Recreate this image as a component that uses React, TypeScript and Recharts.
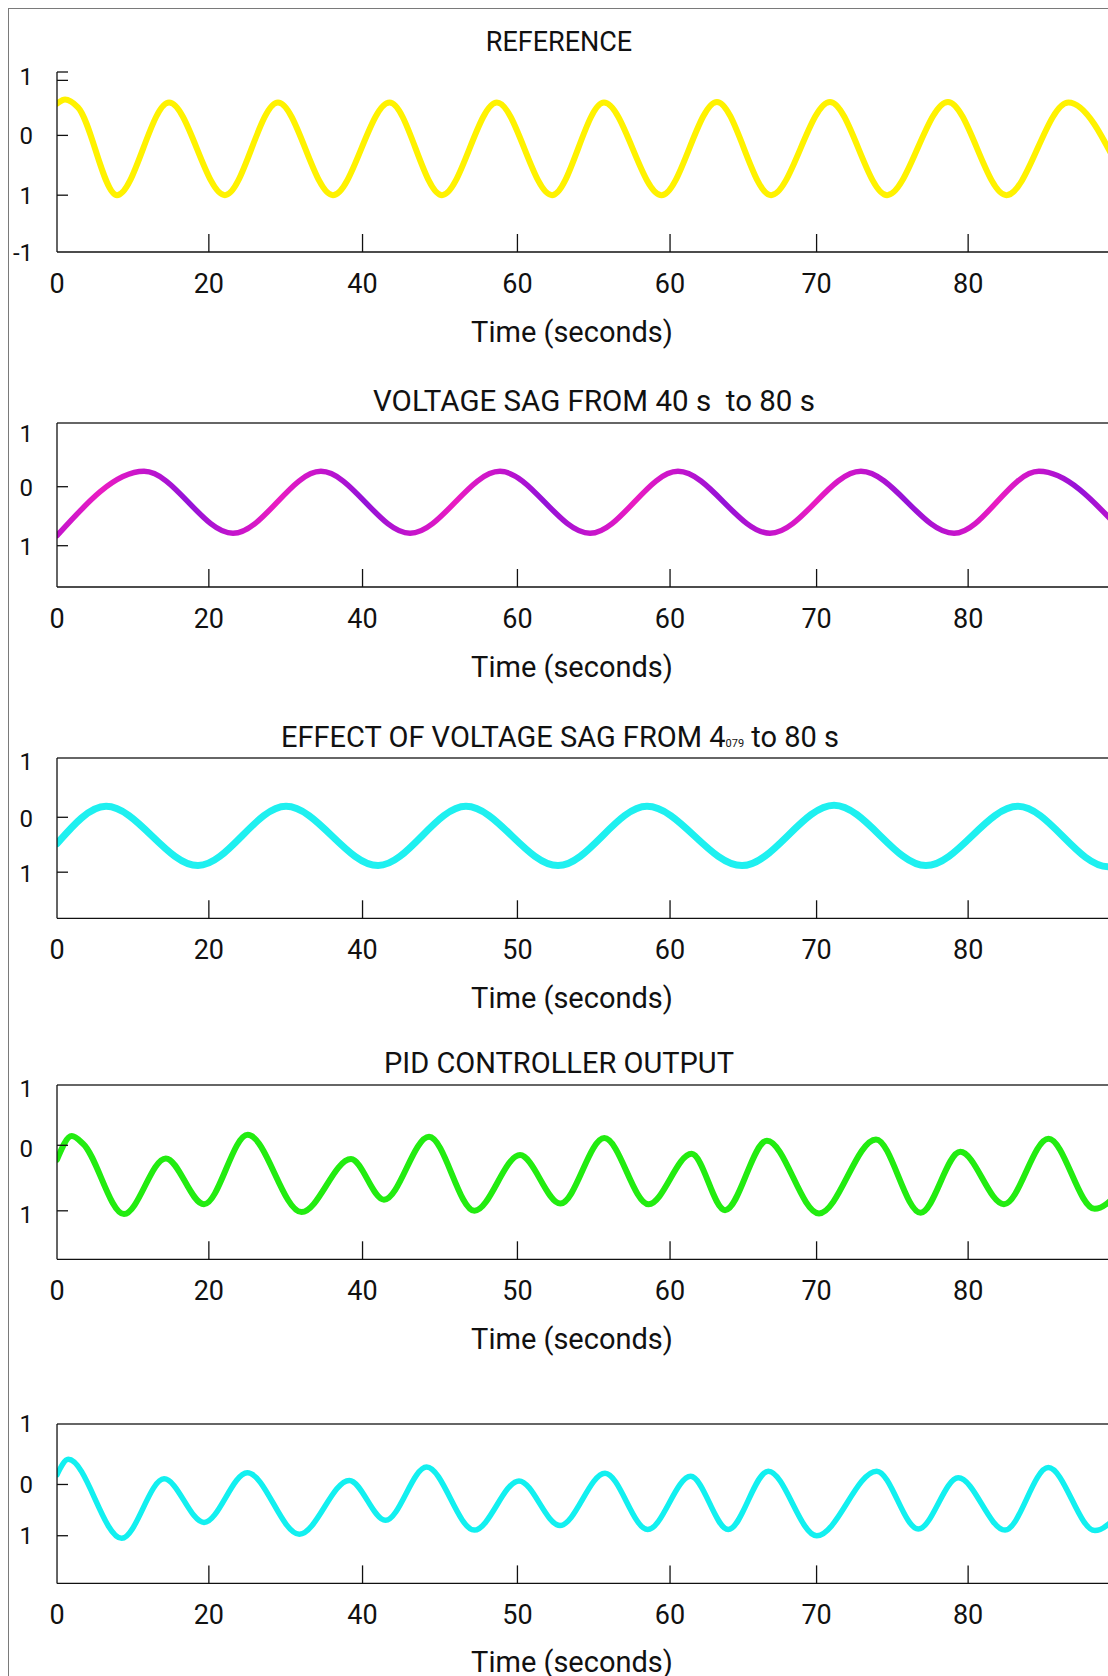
import { LineChart, Line, XAxis, YAxis, ReferenceLine } from "recharts";

const FONT = "Roboto, 'Liberation Sans', Arial, sans-serif";
const X_MAX = 70;

// x axis: tick positions (uneven in the original) and their printed labels
const xTickPos = [0, 10, 20.12, 30.32, 40.37, 50.02, 60];
const xLabelsTop = ["0", "20", "40", "60", "60", "70", "80"];
const xLabelsBottom = ["0", "20", "40", "50", "60", "70", "80"];

// REFERENCE (turning points)
const refX = [0, 0.53, 1.38, 3.95, 7.38, 11.06, 14.55, 18.17, 21.9, 25.35, 28.97, 32.6, 36.02, 39.81, 43.46, 47.02, 50.9, 54.66, 58.67, 62.52, 66.6, 70];
const refY = [0.53, 0.6, 0.47, -1.0, 0.55, -1.0, 0.55, -1.0, 0.55, -1.0, 0.55, -1.0, 0.55, -1.0, 0.56, -1.0, 0.56, -1.0, 0.56, -1.0, 0.55, -0.6];

// VOLTAGE SAG
const sagX = [0, 5.73, 11.59, 17.38, 23.25, 29.17, 35.1, 40.89, 46.95, 52.94, 59.07, 64.66, 70];
const sagY = [-0.83, 0.26, -0.79, 0.26, -0.79, 0.26, -0.79, 0.26, -0.79, 0.26, -0.79, 0.26, -0.72];

// EFFECT OF VOLTAGE SAG
const effX = [0, 3.23, 9.28, 15.08, 21.14, 26.93, 32.99, 38.85, 45.11, 51.17, 57.22, 63.28, 69.21, 70];
const effY = [-0.48, 0.2, -0.88, 0.2, -0.88, 0.2, -0.88, 0.2, -0.88, 0.22, -0.88, 0.2, -0.9, -0.86];

// PID CONTROLLER OUTPUT
const pidX = [0, 0.97, 1.73, 4.41, 7.16, 9.68, 12.56, 16.1, 19.36, 21.53, 24.5, 27.49, 30.49, 33.15, 36.04, 38.96, 41.79, 43.99, 46.75, 50.18, 53.93, 56.87, 59.48, 62.36, 65.29, 68.33, 70];
const pidY = [-0.22, 0.14, 0.02, -1.05, -0.2, -0.9, 0.16, -1.02, -0.21, -0.83, 0.13, -1.0, -0.15, -0.89, 0.11, -0.9, -0.13, -0.99, 0.07, -1.04, 0.09, -1.03, -0.1, -0.9, 0.1, -0.97, -0.7];

// last panel (no title)
const outX = [0, 0.74, 4.26, 7.05, 9.68, 12.53, 15.96, 19.25, 21.63, 24.34, 27.48, 30.42, 33.12, 36.09, 38.9, 41.73, 44.2, 46.84, 50.03, 53.98, 56.72, 59.35, 62.43, 65.28, 68.35, 70];
const outY = [0.19, 0.49, -1.05, 0.11, -0.74, 0.23, -0.97, 0.08, -0.7, 0.34, -0.89, 0.07, -0.8, 0.22, -0.88, 0.16, -0.88, 0.26, -1.0, 0.26, -0.87, 0.13, -0.89, 0.33, -0.9, -0.55];

// y ticks per panel: value, printed text, whether a tick mark is drawn
const yTicks1 = [1.06, 0.99, 0.92, 0, -1, -1.95];
const yText1 = ["", "1", "", "0", "1", "-1"];
const yMark1 = [true, false, true, true, true, false];
const yTicks2 = [0.92, 0, -1];
const yTicks3 = [1.04, 0, -1];
const yTicks4 = [0.92, 0, -1];
const yTicks5 = [1.18, 0, -1];
const yTextStd = ["1", "0", "1"];
const yMarkStd = [false, true, true];

const MARGIN = { top: 20, right: 18, bottom: 0, left: 0 };
const CHART_W = 1130;
const X_AXIS_H = 50;
const Y_AXIS_W = 49;

// gradient stops for the magenta/purple line: pink going up, purple going down
const sagStops = sagX.flatMap((x, i) => {
  const stops = [{ off: x / X_MAX, color: "#c414cc" }];
  if (i < sagX.length - 1) {
    const mid = (x + sagX[i + 1]) / 2;
    stops.push({ off: mid / X_MAX, color: sagY[i + 1] > sagY[i] ? "#ea1cc2" : "#9412d8" });
  }
  return stops;
});

interface PanelProps {
  plotTop: number;
  plotH: number;
  xs: number[];
  ys: number[];
  domain: [number, number];
  yTicks: number[];
  yText: string[];
  yMark: boolean[];
  yDy: number;
  xLabels: string[];
  stroke: string;
  strokeWidth: number;
  box: boolean;
}

const Panel = ({ plotTop, plotH, xs, ys, domain, yTicks, yText, yMark, yDy, xLabels, stroke, strokeWidth, box }: PanelProps) => {
  const data = xs.map((x, i) => ({ x, y: ys[i] }));

  const renderXTick = (props: any) => {
    const { x, y, payload } = props;
    const i = xTickPos.indexOf(payload.value);
    return (
      <g>
        {i > 0 && <line x1={x} x2={x} y1={y} y2={y - 18} stroke="#111" strokeWidth={1.3} />}
        <text x={x} y={y + 40.5} textAnchor="middle" fontSize={27} fontFamily={FONT} fill="#111">
          {xLabels[i]}
        </text>
      </g>
    );
  };

  const renderYTick = (props: any) => {
    const { x, y, payload } = props;
    const i = yTicks.indexOf(payload.value);
    return (
      <g>
        {yMark[i] && <line x1={x} x2={x + 11} y1={y} y2={y} stroke="#111" strokeWidth={1.3} />}
        <text x={25} y={y + yDy + 8.5} textAnchor="end" fontSize={24} fontFamily={FONT} fill="#111">
          {yText[i]}
        </text>
      </g>
    );
  };

  return (
    <div style={{ position: "absolute", left: 0, top: plotTop - 8 - MARGIN.top }}>
      <LineChart width={CHART_W} height={MARGIN.top + plotH + X_AXIS_H} data={data} margin={MARGIN}>
        <XAxis
          dataKey="x"
          type="number"
          domain={[0, X_MAX]}
          ticks={xTickPos}
          interval={0}
          allowDataOverflow
          height={X_AXIS_H}
          tickSize={0}
          tickMargin={0}
          tickLine={false}
          axisLine={{ stroke: "#111", strokeWidth: 1.3 }}
          tick={renderXTick}
        />
        <YAxis
          type="number"
          domain={domain}
          ticks={yTicks}
          interval={0}
          allowDataOverflow
          width={Y_AXIS_W}
          tickSize={0}
          tickMargin={0}
          tickLine={false}
          axisLine={{ stroke: "#111", strokeWidth: 1.3 }}
          tick={renderYTick}
        />
        {box && <ReferenceLine y={domain[1]} stroke="#333" strokeWidth={1.3} />}
        <Line
          type="monotone"
          dataKey="y"
          stroke={stroke}
          strokeWidth={strokeWidth}
          strokeLinecap="round"
          strokeLinejoin="round"
          dot={false}
          activeDot={false}
          isAnimationActive={false}
        />
      </LineChart>
    </div>
  );
};

const App = () => {
  return (
    <div style={{ position: "relative", width: 1100, height: 1668, overflow: "hidden", background: "#fff", fontFamily: FONT }}>
      <style>{"html { overflow: hidden; } body { margin: 8px 0 0 8px; }"}</style>
      <div
        style={{
          position: "absolute",
          left: 0,
          top: 0,
          width: 1200,
          height: 1800,
          border: "1px solid #7a7a7a",
          boxSizing: "border-box",
        }}
      />
      <svg width={0} height={0} style={{ position: "absolute" }}>
        <defs>
          <linearGradient id="sagGrad" x1="0" y1="0" x2="1" y2="0">
            {sagStops.map((s, i) => (
              <stop key={i} offset={s.off} stopColor={s.color} />
            ))}
          </linearGradient>
        </defs>
      </svg>

      <Panel plotTop={72} plotH={180} xs={refX} ys={refY} domain={[-1.95, 1.06]} yTicks={yTicks1} yText={yText1} yMark={yMark1} yDy={0} xLabels={xLabelsTop} stroke="#fff200" strokeWidth={6} box={false} />
      <Panel plotTop={423.3} plotH={164} xs={sagX} ys={sagY} domain={[-1.7, 1.08]} yTicks={yTicks2} yText={yTextStd} yMark={yMarkStd} yDy={1} xLabels={xLabelsTop} stroke="url(#sagGrad)" strokeWidth={5.5} box />
      <Panel plotTop={757.7} plotH={160.3} xs={effX} ys={effY} domain={[-1.84, 1.08]} yTicks={yTicks3} yText={yTextStd} yMark={yMarkStd} yDy={1} xLabels={xLabelsBottom} stroke="#1ef0f0" strokeWidth={7} box />
      <Panel plotTop={1085} plotH={174.3} xs={pidX} ys={pidY} domain={[-1.74, 0.92]} yTicks={yTicks4} yText={yTextStd} yMark={yMarkStd} yDy={3.5} xLabels={xLabelsBottom} stroke="#22ec10" strokeWidth={6} box />
      <Panel plotTop={1424.3} plotH={159.4} xs={outX} ys={outY} domain={[-1.93, 1.18]} yTicks={yTicks5} yText={yTextStd} yMark={yMarkStd} yDy={0} xLabels={xLabelsBottom} stroke="#12f0f0" strokeWidth={5.5} box />

      <svg width={1100} height={1668} style={{ position: "absolute", left: 0, top: 0, pointerEvents: "none" }}>
        <g fontFamily={FONT} fill="#111" textAnchor="middle">
          <text x={551} y={42.7} fontSize={27}>REFERENCE</text>
          <text x={586} y={402.7} fontSize={29.5} style={{ whiteSpace: "pre" }}>VOLTAGE SAG FROM 40 s  to 80 s</text>
          <text x={552} y={738.7} fontSize={29}>
            EFFECT OF VOLTAGE SAG FROM 4<tspan fontSize={11}>079</tspan> to 80 s
          </text>
          <text x={551} y={1065.3} fontSize={29}>PID CONTROLLER OUTPUT</text>
          <text x={564} y={334.3} fontSize={29}>Time (seconds)</text>
          <text x={564} y={669} fontSize={29}>Time (seconds)</text>
          <text x={564} y={1000} fontSize={29}>Time (seconds)</text>
          <text x={564} y={1341} fontSize={29}>Time (seconds)</text>
          <text x={564} y={1664} fontSize={29}>Time (seconds)</text>
        </g>
      </svg>
    </div>
  );
};

export default App;
